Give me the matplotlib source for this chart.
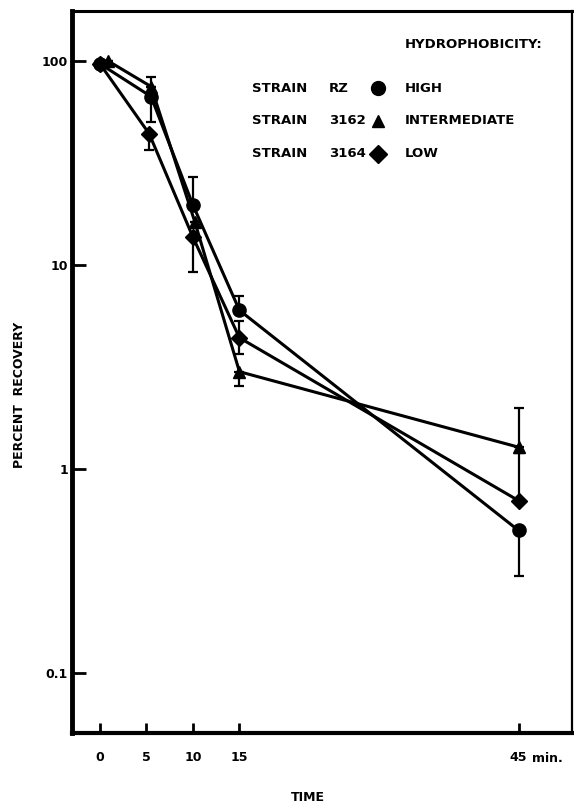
import matplotlib
matplotlib.use("Agg")
from matplotlib import pyplot as plt

plt.rcParams['font.family'] = ['DejaVu Sans']
plt.rcParams['font.weight'] = 'bold'

# time (min), slight x offsets as drawn
t_rz = [0, 5.5, 10, 15, 45]
t_3162 = [0.9, 5.5, 10.2, 15, 45]
t_3164 = [0, 5.3, 10, 15, 45]

# percent recovery
rz = [97, 67, 19.7, 6.0, 0.50]
s3162 = [100, 75, 16.3, 3.0, 1.28]
s3164 = [97, 44, 13.7, 4.4, 0.70]

# error bars (lower, upper), only the visible parts
rz_err = [[0, 17, 0, 0, 0.2], [0, 17, 7.3, 1.05, 0]]
s3162_err = [[0, 0, 0, 0.45, 0], [0, 0, 0, 0, 0.72]]
s3164_err = [[0, 7.5, 4.5, 0.75, 0], [0, 0, 0, 0.9, 0.5]]

yticks = [0.1, 1, 10, 100]
ytick_labels = ['0.1', '1', '10', '100']
xticks = [0, 5, 10, 15, 45]
xtick_labels = ['0', '5', '10', '15', '45']

fig = plt.figure(figsize=(5.74, 8.05), dpi=100)
ax = fig.add_axes([72 / 574, 1 - 733 / 805, 500 / 574, 722 / 805])

style = dict(color='black', lw=2.2, elinewidth=1.6, capsize=3.5, capthick=1.6)
ax.errorbar(t_rz, rz, yerr=rz_err, marker='o', ms=9.5, **style)
ax.errorbar(t_3162, s3162, yerr=s3162_err, marker='^', ms=8.5, **style)
ax.errorbar(t_3164, s3164, yerr=s3164_err, marker='D', ms=8.5, **style)

ax.set_yscale('log')
ax.set_ylim(0.0508, 176)
ax.set_xlim(-3.0, 50.75)

ax.set_yticks(yticks)
ax.set_yticklabels(ytick_labels)
ax.yaxis.set_minor_locator(matplotlib.ticker.NullLocator())
ax.set_xticks(xticks)
ax.set_xticklabels(xtick_labels)
ax.tick_params(axis='y', direction='in', length=10, width=2, pad=3, labelsize=9)
ax.tick_params(axis='x', direction='in', length=7, width=2, pad=13, labelsize=9)
for lab in ax.get_xticklabels() + ax.get_yticklabels():
    lab.set_fontweight('bold')

ax.spines['left'].set_linewidth(3.5)
ax.spines['bottom'].set_linewidth(3)
ax.spines['top'].set_linewidth(2.2)
ax.spines['right'].set_linewidth(1.6)

ax.annotate('min.', xy=(45, 0), xycoords=('data', 'axes fraction'),
            xytext=(10, -13.5), textcoords='offset points', ha='left', va='top',
            fontsize=9, fontweight='bold')

fig.text(20 / 574, 1 - 395 / 805, 'PERCENT  RECOVERY', rotation=90,
         ha='center', va='center', fontsize=9, fontweight='bold')
fig.text(308 / 574, 1 - 797 / 805, 'TIME', ha='center', va='center',
         fontsize=9, fontweight='bold')

# legend block
fs = 9.5
ax.text(0.666, 0.953, 'HYDROPHOBICITY:', transform=ax.transAxes,
        ha='left', va='center', fontsize=fs, fontweight='bold')
rows = [(0.893, 'RZ', 'o', 10, 'HIGH'),
        (0.848, '3162', '^', 8, 'INTERMEDIATE'),
        (0.802, '3164', 'D', 9, 'LOW')]
for y, name, mk, ms, level in rows:
    ax.text(0.36, y, 'STRAIN', transform=ax.transAxes, ha='left', va='center',
            fontsize=fs, fontweight='bold')
    ax.text(0.514, y, name, transform=ax.transAxes, ha='left', va='center',
            fontsize=fs, fontweight='bold')
    ax.plot([0.612], [y], marker=mk, ms=ms, color='black', transform=ax.transAxes,
            clip_on=False)
    ax.text(0.666, y, level, transform=ax.transAxes, ha='left', va='center',
            fontsize=fs, fontweight='bold')

fig.savefig('out.png', dpi=100)
